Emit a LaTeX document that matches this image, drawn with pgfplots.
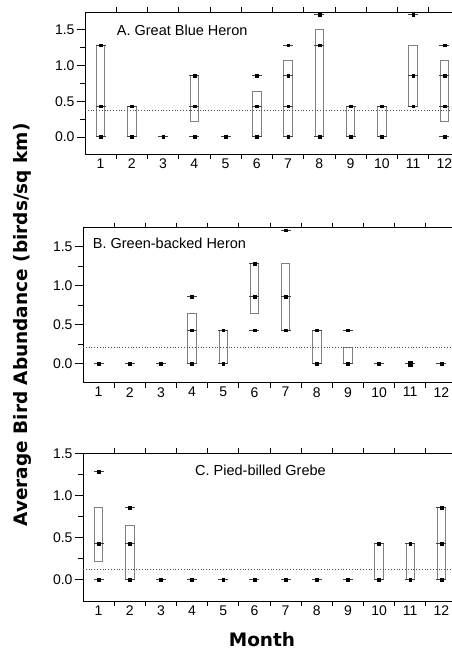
\documentclass[border=0pt]{standalone}
\usepackage{fontspec}
\setmainfont{Liberation Sans}
\newfontfamily\labfont{DejaVu Sans}
\usepackage{pgfplots}
\usepackage{pgfplotstable}
\pgfplotsset{compat=1.18}

\definecolor{boxgray}{HTML}{808080}

% box tables: month, lower edge, box length
\pgfplotstableread{
m lo len
1 0 1.286
2 0 0.429
4 0.214 0.643
6 0 0.643
7 0 1.071
8 0 1.5
9 0 0.429
10 0 0.429
11 0.429 0.857
12 0.214 0.857
}\boxA
\pgfplotstableread{
m lo len
4 0 0.643
5 0 0.429
6 0.643 0.643
7 0.429 0.857
8 0 0.429
9 0 0.214
}\boxB
\pgfplotstableread{
m lo len
1 0.214 0.643
2 0 0.643
10 0 0.429
11 0 0.429
12 0 0.857
}\boxC

\pgfplotsset{
  panel/.style={
    scale only axis,
    xmin=0.5, xmax=12.5,
    xtick={1,2,...,12},
    minor xtick={1.5,2.5,...,11.5},
    major x tick style={draw=none},
    ytick={0,0.5,1,1.5},
    minor y tick num=1,
    yticklabel style={/pgf/number format/fixed, /pgf/number format/fixed zerofill, /pgf/number format/precision=1, xshift=1pt},
    /pgf/number format/assume math mode=true,
    tick align=outside,
    major tick length=8pt, minor tick length=5pt,
    tick style={black, line width=0.7pt},
    axis line style={black, line width=0.8pt},
    ticklabel style={font=\fontsize{14}{16}\selectfont},
    xticklabel style={yshift=7pt},
  },
  boxlow/.style={ybar stacked, bar width=8.5pt, draw=none, fill=none, forget plot},
  boxtop/.style={ybar stacked, bar width=8.5pt, draw=boxgray, fill=none, line width=0.8pt},
  dashmark/.style={only marks, mark=-, mark size=5pt, mark options={draw=black!75, line width=0.9pt}},
  dotmark/.style={only marks, mark=square*, mark size=1.4pt, mark options={black}},
  refline/.style={black!70, dotted, line width=0.8pt},
}

\begin{document}
\begin{tikzpicture}

% A. Great Blue Heron
\begin{axis}[panel, at={(85pt,-154pt)}, anchor=south west,
  width=375pt, height=142pt, ymin=-0.24, ymax=1.75]
\addplot[boxlow] table[x=m, y=lo] \boxA;
\addplot[boxtop] table[x=m, y=len] \boxA;
\addplot[refline] coordinates {(0.5,0.37) (12.5,0.37)};
\addplot[dashmark] coordinates {
(1,0)(1,0.429)(1,1.286)
(2,0)(2,0.429)
(3,0)
(4,0)(4,0.429)(4,0.857)
(5,0)
(6,0)(6,0.429)(6,0.857)
(7,0)(7,0.429)(7,0.857)(7,1.286)
(8,0)(8,1.286)(8,1.714)
(9,0)(9,0.429)
(10,0)(10,0.429)
(11,0.429)(11,0.857)(11,1.714)
(12,0)(12,0.429)(12,0.857)(12,1.286)
};
\addplot[dotmark] coordinates {
(1,0)(1,0.429)(1,1.286)
(2,0)(2,0.429)
(3,0)
(4,0)(4,0.429)(4,0.857)
(5,0)
(6,0)(6,0.429)(6,0.857)
(7,0)(7,0.429)(7,0.857)(7,1.286)
(8,0)(8,1.286)(8,1.714)
(9,0)(9,0.429)
(10,0)(10,0.429)
(11,0.429)(11,0.857)(11,1.714)
(12,0)(12,0.429)(12,0.857)(12,1.286)
};
\end{axis}

% B. Green-backed Heron
\begin{axis}[panel, at={(83pt,-382.7pt)}, anchor=south west,
  width=374pt, height=155pt, ymin=-0.244, ymax=1.745]
\addplot[boxlow] table[x=m, y=lo] \boxB;
\addplot[boxtop] table[x=m, y=len] \boxB;
\addplot[refline] coordinates {(0.5,0.205) (12.5,0.205)};
\addplot[dashmark] coordinates {
(1,0)(2,0)(3,0)
(4,0)(4,0.429)(4,0.857)
(5,0)(5,0.429)
(6,0.429)(6,0.857)(6,1.286)
(7,0.429)(7,0.857)(7,1.714)
(8,0)(8,0.429)
(9,0)(9,0.429)
(10,0)(11,0)(12,0)
};
\addplot[dotmark] coordinates {
(1,0)(2,0)(3,0)
(4,0)(4,0.429)(4,0.857)
(5,0)(5,0.429)
(6,0.429)(6,0.857)(6,1.286)
(7,0.429)(7,0.857)(7,1.714)
(8,0)(8,0.429)
(9,0)(9,0.429)
(10,0)(12,0)
};
\addplot[dotmark, mark size=2.3pt] coordinates {(11,0)};
\end{axis}

% C. Pied-billed Grebe
\begin{axis}[panel, at={(83pt,-601pt)}, anchor=south west,
  width=374pt, height=147.7pt, ymin=-0.254, ymax=1.5]
\addplot[boxlow] table[x=m, y=lo] \boxC;
\addplot[boxtop] table[x=m, y=len] \boxC;
\addplot[refline] coordinates {(0.5,0.127) (12.5,0.127)};
\addplot[dashmark] coordinates {
(1,0)(1,0.429)(1,1.286)
(2,0)(2,0.429)(2,0.857)
(3,0)(4,0)(5,0)(6,0)(7,0)(8,0)(9,0)
(10,0)(10,0.429)
(11,0)(11,0.429)
(12,0)(12,0.429)(12,0.857)
};
\addplot[dotmark] coordinates {
(1,0)(1,0.429)(1,1.286)
(2,0)(2,0.429)(2,0.857)
(3,0)(4,0)(5,0)(6,0)(7,0)(8,0)(9,0)
(10,0)(10,0.429)
(11,0)(11,0.429)
(12,0)(12,0.429)(12,0.857)
};
\end{axis}

% panel titles and axis titles
\node[anchor=base west, font=\fontsize{14.5}{17}\selectfont, inner sep=0pt] at (116.7pt,-35.7pt) {A. Great Blue Heron};
\node[anchor=base west, font=\fontsize{14.5}{17}\selectfont, inner sep=0pt] at (92.7pt,-248.3pt) {B. Green-backed Heron};
\node[anchor=base west, font=\fontsize{14.5}{17}\selectfont, inner sep=0pt] at (195pt,-475.7pt) {C. Pied-billed Grebe};
\node[rotate=90, inner sep=0pt, font=\labfont\bfseries\fontsize{18.5}{20}\selectfont] at (22pt,-325pt) {Average Bird Abundance (birds/sq km)};
\node[anchor=base, inner sep=0pt, font=\labfont\bfseries\fontsize{18.5}{20}\selectfont] at (262pt,-646pt) {Month};

\pgfresetboundingbox
\useasboundingbox (0,0) rectangle (452pt,-651pt);
\end{tikzpicture}
\end{document}
